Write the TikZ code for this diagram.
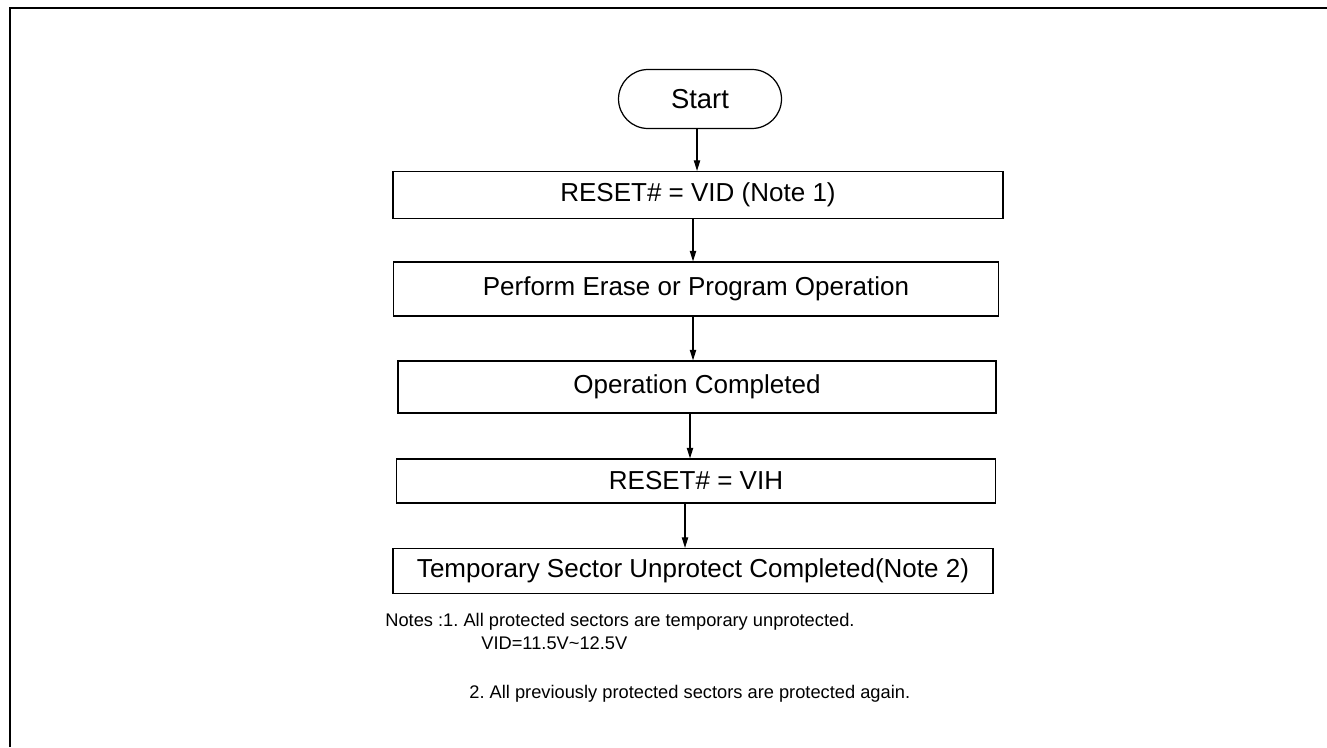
\documentclass[tikz,border=0pt]{standalone}
\usepackage{fontspec}
\setmainfont{Liberation Sans}
\usetikzlibrary{arrows.meta, positioning}
\frenchspacing

\begin{document}
\begin{tikzpicture}[
  x=0.02cm, y=-0.02cm,
  >={Triangle[length=6pt, width=3.6pt]},
  terminal/.style={draw, line width=0.7pt, rounded corners=0.59cm, minimum width=3.26cm, minimum height=1.18cm, font=\fontsize{15.6}{18}\selectfont},
  stepbox/.style={draw, line width=0.7pt, minimum width=12.1cm, minimum height=0.94cm, font=\fontsize{14.8}{17}\selectfont},
  arrow/.style={->, line width=0.6pt},
  note/.style={anchor=west, inner sep=0pt, font=\fontsize{10.4}{12.5}\selectfont}
]
\useasboundingbox (0,0) rectangle (1327,747);

% frame
\draw[line width=1.6pt] (10,747) -- (10,8) -- (1327,8);

\node[terminal] (start) at (700,99) {Start};
\node[stepbox, minimum width=12.2cm] (vid) at (698,195) {RESET\# = VID (Note 1)};
\node[stepbox, minimum height=1.08cm] (oper) at (696,289) {Perform Erase or Program Operation};
\node[stepbox, minimum width=11.96cm, minimum height=1.04cm] (done) at (697,387) {Operation Completed};
\node[stepbox, minimum width=11.98cm, minimum height=0.88cm] (vih) at (696,481) {RESET\# = VIH};
\node[stepbox, minimum width=12cm, minimum height=0.9cm] (unprot) at (693,571) {Temporary Sector Unprotect Completed(Note 2)};

\draw[arrow] ([xshift=-0.06cm]start.south) -- ([xshift=-0.06cm]start.south |- vid.north);
\draw[arrow] ([xshift=-0.1cm]vid.south) -- ([xshift=-0.1cm]vid.south |- oper.north);
\draw[arrow] ([xshift=-0.06cm]oper.south) -- ([xshift=-0.06cm]oper.south |- done.north);
\draw[arrow] ([xshift=-0.14cm]done.south) -- ([xshift=-0.14cm]done.south |- vih.north);
\draw[arrow] ([xshift=-0.22cm]vih.south) -- ([xshift=-0.22cm]vih.south |- unprot.north);

% notes
\node[note] (note1) at (385,622) {Notes :1. All protected sectors are temporary unprotected.};
\node[note] (note1b) at (481,643) {VID=11.5V\textasciitilde12.5V};
\node[note] (note2) at (469,694) {2. All previously protected sectors are protected again.};
\end{tikzpicture}
\end{document}
